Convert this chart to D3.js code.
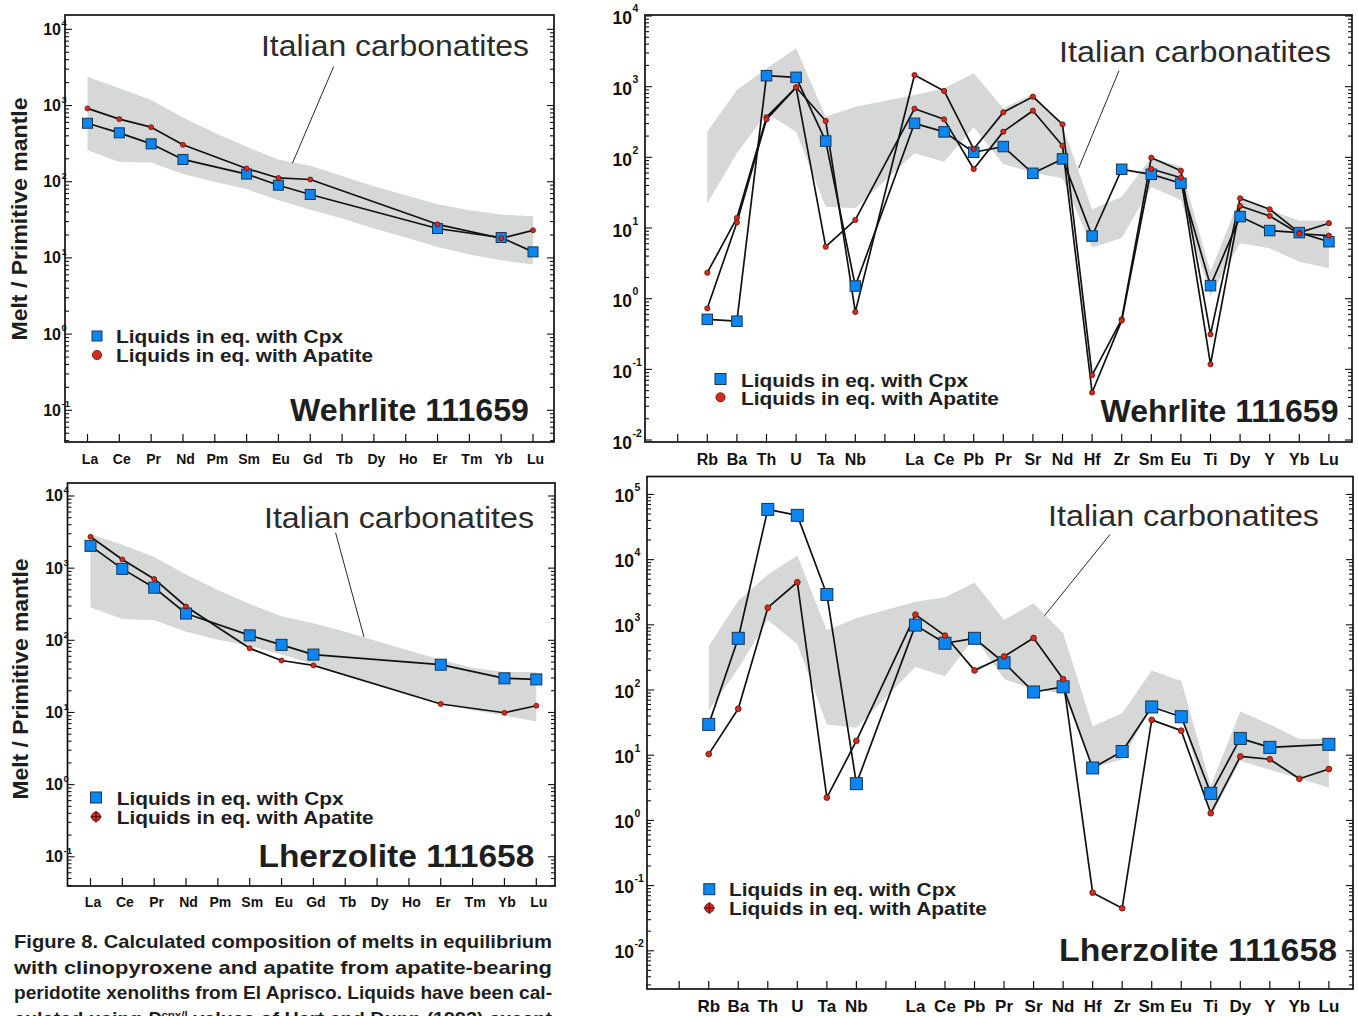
<!DOCTYPE html>
<html><head><meta charset="utf-8">
<script src="https://cdn.jsdelivr.net/npm/d3@7"></script>
<style>
body{margin:0;background:#fff;}
svg{display:block;}
text{font-family:"Liberation Sans",Arial,Helvetica,sans-serif;}
</style></head><body>
<svg id="c" width="1358" height="1016"></svg>
<script>
// ---------- categories ----------
const REE = ["La","Ce","Pr","Nd","Pm","Sm","Eu","Gd","Tb","Dy","Ho","Er","Tm","Yb","Lu"];
const SPIDER = ["","Rb","Ba","Th","U","Ta","Nb","","La","Ce","Pb","Pr","Sr","Nd","Hf","Zr","Sm","Eu","Ti","Dy","Y","Yb","Lu"];
const ELEMENTS = SPIDER.filter(s => s !== "");

// ---------- Wehrlite 111659, REE ----------
const wReeCpx    = [585, 438, 314, 196, null, 126, 90, 68, null, null, null, 24.3, null, 18.5, 12.0];
const wReeAp     = [916, 663, 520, 305, null, 149, 112, 107, null, null, null, 27.6, null, 18.1, 23];
const wReeBandHi = [2380, 1680, 1180, 697, 438, 287, 196, 162, 119, 87, 66.5, 50.6, 42.2, 37, 35.3];
const wReeBandLo = [259, 182, 179, 126, 99, 80, 57, 43, 32.8, 24.3, 18.5, 13.9, 11.1, 9.3, 8.2];

// ---------- Lherzolite 111658, REE ----------
const lReeCpx    = [2037, 977, 536, 235, null, 117, 86.5, 63.4, null, null, null, 45.9, null, 29.7, 28.7];
const lReeAp     = [2720, 1320, 708, 294, null, 77.4, 52.5, 44.9, null, null, null, 13.1, null, 9.9, 12.4];
const lReeBandHi = [2940, 2110, 1430, 819, 496, 318, 215, 172, 131, 96.7, 72.5, 53.6, 41.5, 36.3, 36.3];
const lReeBandLo = [284, 197, 189, 131, 102, 83.8, 63.4, 46.4, 34.4, 24.6, 17.6, 13.1, 10.7, 9.06, 7.5];

// ---------- Wehrlite 111659, multi-element (order = ELEMENTS) ----------
const wSpCpx    = [0.51, 0.48, 1429, 1355, 170, 1.51, 303, 229, 118, 142, 59.4, 95, 7.7, 67.7, 57.5, 42.9, 1.53, 14.5, 9.2, 8.6, 6.4];
const wSpAp1    = [2.33, 13.9, 370, 979, 327, 0.65, 1462, 869, 131, 433, 722, 293, 0.083, 0.51, 98.8, 64.7, 0.313, 26.3, 18.4, 8.6, 11.7];
const wSpAp2    = [0.73, 12.0, 345, 979, 5.44, 13.0, 488, 345, 68.4, 231, 457, 146, 0.047, 0.49, 68.4, 51.5, 0.118, 20.5, 14.8, 8.3, 7.8];
const wSpBandHi = [231, 897, 1800, 3490, 376, 521, 760, 948, 1545, 493, 787, 277, 18.4, 27.7, 100, 73.8, 2.4, 27.5, 18, 12.7, 12.9];
const wSpBandLo = [22.3, 114, 420, 231, 20, 19, 114, 86.9, 266, 80.5, 60.7, 50.5, 5.3, 7.2, 38, 24.9, 1.1, 6.07, 5.15, 3.34, 2.69];

// ---------- Lherzolite 111658, multi-element ----------
const lSpCpx    = [29.7, 621, 58900, 47800, 2920, 3.66, 990, 522, 621, 262, 93.3, 112, 6.37, 11.4, 55, 38.9, 2.6, 18.1, 13.2, null, 14.7];
const lSpAp     = [10.4, 51.6, 1830, 4500, 2.24, 16.6, 1432, 684, 200, 327, 628, 147, 0.078, 0.045, 34.8, 23.8, 1.29, 9.57, 8.67, 4.35, 6.14];
const lSpBandHi = [473, 2340, 5900, 11600, 824, 1270, 2260, 2650, 4440, 1190, 2150, 746, 27.9, 44, 200, 138, 3.44, 46.8, 29.7, 17.7, 18.1];
const lSpBandLo = [48.5, 213, 1190, 503, 29.7, 26.3, 226, 162, 644, 147, 102, 89.9, 6.37, 8.67, 55, 43, 1.14, 8.15, 6.0, 4.4, 3.16];

// ---------- texts ----------
const BAND_LABEL = "Italian carbonatites";
const LEGEND_CPX = "Liquids in eq. with Cpx";
const LEGEND_AP = "Liquids in eq. with Apatite";
const Y_TITLE = "Melt / Primitive mantle";
const CAPTION = [
  "Figure 8. Calculated composition of melts in equilibrium",
  "with clinopyroxene and apatite from apatite-bearing",
  "peridotite xenoliths from El Aprisco. Liquids have been cal-"
];

const svg = d3.select("#c");
const RED = "#d8291c", RED_STROKE = "#5a160e", BLUE = "#0c86f3", BLUE_STROKE = "#1a3550", BAND = "#d6d8d8";
const INK = "#111";

function panel(cfg) {
  const g = svg.append("g");
  const y = d3.scaleLog().domain([Math.pow(10, cfg.logLo), Math.pow(10, cfg.logHi)]).range([cfg.y1, cfg.y0]);
  let xOf, slots, cats;
  if (cfg.type === "ree") {
    const xs = d3.scalePoint().domain(REE).range(cfg.xr);
    xOf = k => xs(k);
    slots = REE.map(k => ({label: k, x: xs(k)}));
    cats = REE;
  } else {
    const xs = d3.scaleLinear().domain([0, SPIDER.length - 1]).range(cfg.xr);
    xOf = k => xs(SPIDER.indexOf(k));
    slots = SPIDER.map((k, i) => ({label: k, x: xs(i)}));
    cats = ELEMENTS;
  }
  // band
  const bandData = cats.map((k, i) => ({k, hi: cfg.bandHi[i], lo: cfg.bandLo[i]})).filter(d => d.hi != null);
  g.append("path").datum(bandData)
    .attr("d", d3.area().x(d => xOf(d.k)).y0(d => y(d.lo)).y1(d => y(d.hi)))
    .attr("fill", BAND);
  // leader line
  g.append("line").attr("x1", cfg.leader[0]).attr("y1", cfg.leader[1]).attr("x2", cfg.leader[2]).attr("y2", cfg.leader[3])
    .attr("stroke", INK).attr("stroke-width", 0.9);
  // series lines
  const series = cfg.series.map(s => ({...s, pts: cats.map((k, i) => ({k, v: s.values[i]})).filter(d => d.v != null)}));
  const line = d3.line().x(d => xOf(d.k)).y(d => y(d.v));
  series.forEach(s => {
    g.append("path").datum(s.pts).attr("d", line).attr("fill", "none")
      .attr("stroke", INK).attr("stroke-width", 1.7).attr("stroke-linejoin", "round");
  });
  // squares then dots
  series.filter(s => s.kind === "cpx").forEach(s => {
    g.selectAll(null).data(s.pts).join("rect")
      .attr("x", d => xOf(d.k) - cfg.sq / 2).attr("y", d => y(d.v) - cfg.sq / 2)
      .attr("width", cfg.sq).attr("height", cfg.sq)
      .attr("fill", BLUE).attr("stroke", BLUE_STROKE).attr("stroke-width", 1);
  });
  series.filter(s => s.kind === "ap").forEach(s => {
    g.selectAll(null).data(s.pts).join("circle")
      .attr("cx", d => xOf(d.k)).attr("cy", d => y(d.v)).attr("r", cfg.dot)
      .attr("fill", RED).attr("stroke", RED_STROKE).attr("stroke-width", 0.8);
  });
  // frame
  g.append("rect").attr("x", cfg.x0).attr("y", cfg.y0).attr("width", cfg.x1 - cfg.x0).attr("height", cfg.y1 - cfg.y0)
    .attr("fill", "none").attr("stroke", INK).attr("stroke-width", 1.7);
  // y ticks (both sides, inward)
  const eLo = Math.floor(cfg.logLo), eHi = Math.ceil(cfg.logHi);
  for (let e = eLo; e <= eHi; e++) {
    for (let k = 1; k <= 9; k++) {
      const v = k * Math.pow(10, e);
      const lv = Math.log10(v);
      if (lv < cfg.logLo - 1e-9 || lv > cfg.logHi + 1e-9) continue;
      const len = k === 1 ? 7 : 4;
      const yy = y(v);
      g.append("line").attr("x1", cfg.x0).attr("x2", cfg.x0 + len).attr("y1", yy).attr("y2", yy).attr("stroke", INK).attr("stroke-width", 1.1);
      g.append("line").attr("x1", cfg.x1).attr("x2", cfg.x1 - len).attr("y1", yy).attr("y2", yy).attr("stroke", INK).attr("stroke-width", 1.1);
    }
    if (e >= cfg.logLo - 0.02 && e <= cfg.logHi + 0.02) {
      const yy = y(Math.pow(10, e));
      g.append("text").attr("x", cfg.lblX).attr("y", yy + cfg.lblDy).attr("text-anchor", "end")
        .attr("font-weight", "bold").attr("font-size", cfg.lblFs).attr("fill", INK).text("10");
      g.append("text").attr("x", cfg.lblX + 0.5).attr("y", yy + cfg.supDy)
        .attr("font-weight", "bold").attr("font-size", cfg.supFs).attr("fill", INK).text(e);
    }
  }
  // bottom ticks + labels
  slots.forEach(s => {
    g.append("line").attr("x1", s.x).attr("x2", s.x).attr("y1", cfg.y1).attr("y2", cfg.y1 - 8).attr("stroke", INK).attr("stroke-width", 1.2);
    if (s.label) {
      g.append("text").attr("x", s.x + cfg.xlOff).attr("y", cfg.xlY).attr("text-anchor", "middle")
        .attr("font-weight", "bold").attr("font-size", cfg.xlFs).attr("fill", INK).text(s.label);
    }
  });
  // band label
  g.append("text").attr("x", cfg.bandLbl[0]).attr("y", cfg.bandLbl[1]).attr("font-size", 30).attr("fill", "#2b2b2b")
    .attr("textLength", cfg.bandLbl[2]).attr("lengthAdjust", "spacingAndGlyphs").text(BAND_LABEL);
  // sample name
  g.append("text").attr("x", cfg.name[0]).attr("y", cfg.name[1]).attr("font-size", 31).attr("font-weight", "bold").attr("fill", "#1e1e1e")
    .attr("textLength", cfg.name[2]).attr("lengthAdjust", "spacingAndGlyphs").text(cfg.nameText);
  // legend
  const L = cfg.legend;
  g.append("rect").attr("x", L.sx - L.ss / 2).attr("y", L.y1 - L.ss / 2).attr("width", L.ss).attr("height", L.ss)
    .attr("fill", BLUE).attr("stroke", BLUE_STROKE).attr("stroke-width", 1);
  g.append("circle").attr("cx", L.sx).attr("cy", L.y2).attr("r", 4.6).attr("fill", RED).attr("stroke", RED_STROKE).attr("stroke-width", 0.8);
  if (L.cross) {
    g.append("line").attr("x1", L.sx - 5.5).attr("x2", L.sx + 5.5).attr("y1", L.y2).attr("y2", L.y2).attr("stroke", RED_STROKE).attr("stroke-width", 1.2);
    g.append("line").attr("x1", L.sx).attr("x2", L.sx).attr("y1", L.y2 - 6).attr("y2", L.y2 + 6).attr("stroke", RED_STROKE).attr("stroke-width", 1.2);
  }
  g.append("text").attr("x", L.tx).attr("y", L.b1).attr("font-size", L.fs).attr("font-weight", "bold").attr("fill", "#1e1e1e")
    .attr("textLength", L.w1).attr("lengthAdjust", "spacingAndGlyphs").text(LEGEND_CPX);
  g.append("text").attr("x", L.tx).attr("y", L.b2).attr("font-size", L.fs).attr("font-weight", "bold").attr("fill", "#1e1e1e")
    .attr("textLength", L.w2).attr("lengthAdjust", "spacingAndGlyphs").text(LEGEND_AP);
  // y title
  if (cfg.yTitle) {
    const [tx, ty, tl] = cfg.yTitle;
    g.append("text").attr("transform", `translate(${tx},${ty}) rotate(-90)`).attr("text-anchor", "middle")
      .attr("font-size", 22).attr("font-weight", "bold").attr("fill", "#1e1e1e")
      .attr("textLength", tl).attr("lengthAdjust", "spacingAndGlyphs").text(Y_TITLE);
  }
}

// Top-left: Wehrlite REE
panel({
  type: "ree", x0: 65, x1: 554, y0: 15, y1: 442, xr: [87.5, 533],
  logLo: -1.416, logHi: 4.188,
  bandHi: wReeBandHi, bandLo: wReeBandLo,
  series: [{kind: "ap", values: wReeAp}, {kind: "cpx", values: wReeCpx}],
  sq: 10, dot: 2.5,
  lblX: 61, lblDy: 5.5, lblFs: 16, supDy: -3, supFs: 9.5,
  xlY: 463.5, xlFs: 14, xlOff: 2.5,
  leader: [333.6, 66.7, 292.4, 163.3],
  bandLbl: [261, 56, 268], name: [290, 421, 239], nameText: "Wehrlite 111659",
  legend: {sx: 97, ss: 10, y1: 336, y2: 355, tx: 116, b1: 342.7, b2: 361.7, w1: 227, w2: 257, fs: 18.5, cross: false},
  yTitle: [27, 219, 243]
});

// Bottom-left: Lherzolite REE
panel({
  type: "ree", x0: 67.5, x1: 555, y0: 483, y1: 886, xr: [90.5, 536.3],
  logLo: -1.405, logHi: 4.18,
  bandHi: lReeBandHi, bandLo: lReeBandLo,
  series: [{kind: "ap", values: lReeAp}, {kind: "cpx", values: lReeCpx}],
  sq: 11, dot: 2.5,
  lblX: 63, lblDy: 5.5, lblFs: 16, supDy: -2.5, supFs: 9.5,
  xlY: 906.5, xlFs: 14, xlOff: 2.5,
  leader: [335.6, 532.7, 364, 637],
  bandLbl: [264, 527.5, 270], name: [258.4, 867.2, 276], nameText: "Lherzolite 111658",
  legend: {sx: 96, ss: 11, y1: 797.5, y2: 816.7, tx: 116.7, b1: 805.2, b2: 824.4, w1: 227, w2: 257, fs: 18.5, cross: true},
  yTitle: [28, 679, 241]
});

// Top-right: Wehrlite spider
panel({
  type: "spider", x0: 645, x1: 1352, y0: 15, y1: 442, xr: [677.7, 1328.9],
  logLo: -2.028, logHi: 4.014,
  bandHi: wSpBandHi, bandLo: wSpBandLo,
  series: [{kind: "ap", values: wSpAp1}, {kind: "ap", values: wSpAp2}, {kind: "cpx", values: wSpCpx}],
  sq: 10.5, dot: 2.6,
  lblX: 632, lblDy: 8.5, lblFs: 17.5, supDy: -3.5, supFs: 10.5,
  xlY: 465, xlFs: 16, xlOff: 0,
  leader: [1119, 70.7, 1078.6, 168.3],
  bandLbl: [1059, 61.7, 272], name: [1100.5, 421.7, 238], nameText: "Wehrlite 111659",
  legend: {sx: 720.5, ss: 11, y1: 379, y2: 397.3, tx: 741, b1: 386.7, b2: 405, w1: 227, w2: 258, fs: 19, cross: false},
  yTitle: null
});

// Bottom-right: Lherzolite spider
panel({
  type: "spider", x0: 647, x1: 1353, y0: 476.5, y1: 989, xr: [679.2, 1328.9],
  logLo: -2.586, logHi: 5.275,
  bandHi: lSpBandHi, bandLo: lSpBandLo,
  series: [{kind: "ap", values: lSpAp}, {kind: "cpx", values: lSpCpx}],
  sq: 12, dot: 2.9,
  lblX: 634, lblDy: 7.5, lblFs: 17.5, supDy: -3.5, supFs: 10.5,
  xlY: 1012, xlFs: 17, xlOff: 0,
  leader: [1110, 534.5, 1044.6, 615.6],
  bandLbl: [1048, 525.7, 271], name: [1059, 961.3, 278], nameText: "Lherzolite 111658",
  legend: {sx: 709.3, ss: 11, y1: 889.2, y2: 908, tx: 729, b1: 895.8, b2: 915, w1: 227, w2: 258, fs: 19, cross: true},
  yTitle: null
});

// Caption (justified lines; the fourth line is cut by the bottom edge, as in the original page)
const capG = svg.append("g");
CAPTION.forEach((t, i) => {
  capG.append("text").attr("x", 14).attr("y", 948 + i * 25.5).attr("font-size", 19).attr("font-weight", "bold").attr("fill", "#1e1e1e")
    .attr("textLength", 538).attr("lengthAdjust", "spacingAndGlyphs").text(t);
});
const last = capG.append("text").attr("x", 14).attr("y", 948 + 3 * 25.5).attr("font-size", 19).attr("font-weight", "bold").attr("fill", "#1e1e1e")
  .attr("textLength", 538).attr("lengthAdjust", "spacingAndGlyphs");
last.append("tspan").text("culated using ");
last.append("tspan").attr("font-style", "italic").text("D");
last.append("tspan").attr("font-size", 11).attr("dy", -6).text("cpx/l");
last.append("tspan").attr("dy", 6).text(" values of Hart and Dunn (1993) except");
</script>
</body></html>
